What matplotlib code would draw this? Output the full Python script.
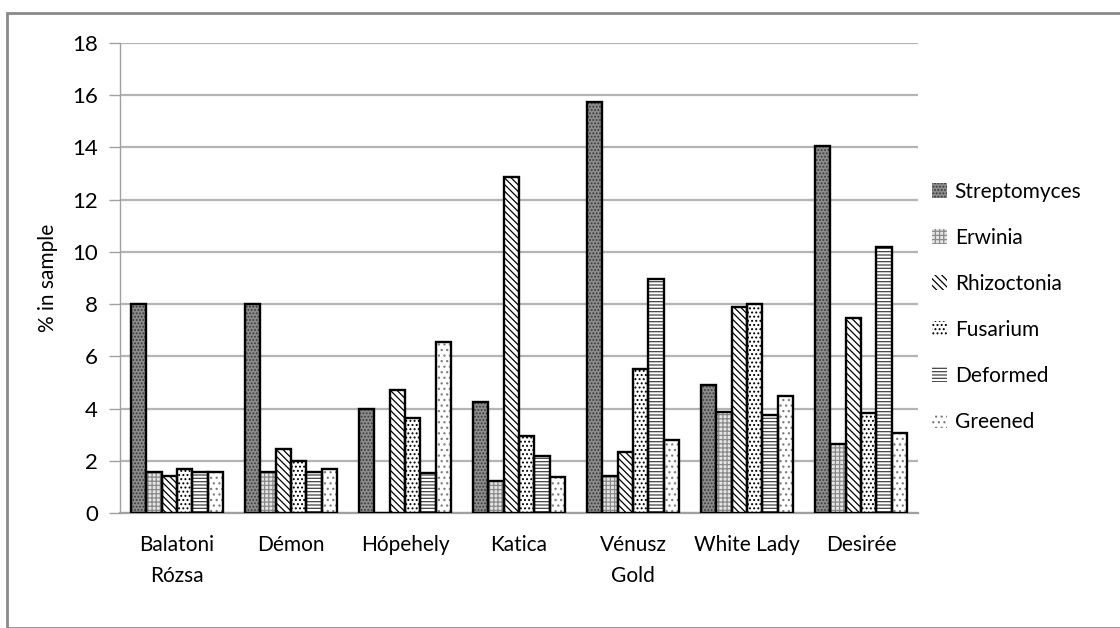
import matplotlib
matplotlib.use("Agg")
import matplotlib.pyplot as plt
import numpy as np
from matplotlib.patches import Rectangle, Patch
from matplotlib import font_manager

names = {f.name for f in font_manager.fontManager.ttflist}
fam = 'Liberation Sans Narrow' if 'Liberation Sans Narrow' in names else 'Lato'
plt.rcParams['font.family'] = [fam, 'DejaVu Sans']
plt.rcParams['hatch.linewidth'] = 0.9

categories = ["Balatoni\nRózsa", "Démon", "Hópehely", "Katica", "Vénusz\nGold", "White Lady", "Desirée"]
series_names = ["Streptomyces", "Erwinia", "Rhizoctonia", "Fusarium", "Deformed", "Greened"]
streptomyces = [8.0, 8.0, 4.0, 4.25, 15.75, 4.9, 14.05]
erwinia      = [1.57, 1.57, 0.0, 1.21, 1.43, 3.85, 2.65]
rhizoctonia  = [1.42, 2.46, 4.72, 12.85, 2.35, 7.9, 7.45]
fusarium     = [1.68, 2.0, 3.65, 2.93, 5.53, 8.0, 3.82]
deformed     = [1.56, 1.56, 1.55, 2.2, 8.95, 3.74, 10.2]
greened      = [1.57, 1.68, 6.55, 1.38, 2.8, 4.5, 3.05]
yticks = [0, 2, 4, 6, 8, 10, 12, 14, 16, 18]

values = [streptomyces, erwinia, rhizoctonia, fusarium, deformed, greened]
styles = [
    dict(face='#8c8c8c', hatch='.....', hcol='#3a3a3a'),
    dict(face='#e6e6e6', hatch='++++', hcol='#8a8a8a'),
    dict(face='white', hatch='\\\\\\\\\\', hcol='black'),
    dict(face='white', hatch='....', hcol='black'),
    dict(face='white', hatch='-----', hcol='#444444'),
    dict(face='white', hatch='...', hcol='#808080'),
]

fig = plt.figure(figsize=(11.2, 6.28), dpi=100)
ax = fig.add_axes([120/1120, 115/628, 798/1120, 470/628])

n = len(categories)
x = np.arange(n)
bw = 0.134
offsets = (np.arange(6) - 2.5) * bw
for vals, st, off in zip(values, styles, offsets):
    ax.bar(x + off, vals, bw, color=st['face'], hatch=st['hatch'],
           edgecolor=st['hcol'], linewidth=0, zorder=3)
    ax.bar(x + off, vals, bw, fill=False, edgecolor='black', linewidth=1.7, zorder=4)

ax.set_xlim(-0.5, n - 0.5)
ax.set_ylim(0, 18)
ax.set_yticks(yticks)
ax.set_xticks(x)
ax.set_xticklabels(categories, fontsize=15, linespacing=1.65)
ax.tick_params(axis='x', length=0, pad=16)
ax.tick_params(axis='y', length=8, width=1, color='#a0a0a0', labelsize=16, pad=8)
ax.yaxis.grid(True, color='#b4b4b4', linewidth=1.6, zorder=0)
ax.set_axisbelow(True)
for s in ['top', 'right']:
    ax.spines[s].set_visible(False)
ax.spines['left'].set_color('#a0a0a0')
ax.spines['bottom'].set_color('#a0a0a0')
ax.spines['left'].set_linewidth(1)
ax.spines['bottom'].set_linewidth(1.6)
ax.set_ylabel('% in sample', fontsize=15, labelpad=10)

handles = [Patch(facecolor=st['face'], hatch=st['hatch'], edgecolor=st['hcol'], linewidth=0)
           for st in styles]
leg = fig.legend(handles, series_names, loc='center left', bbox_to_anchor=(913/1120, 1 - 307/628),
                 frameon=False, fontsize=15, handlelength=0.75, handleheight=0.75,
                 handletextpad=0.35, labelspacing=1.25)

# outer chart border
fig.add_artist(Rectangle((7/1120, 0), 1.2, 1 - 13/628, transform=fig.transFigure,
                         fill=False, edgecolor='#8a8a8a', linewidth=2))

fig.savefig('out.png', dpi=100)
